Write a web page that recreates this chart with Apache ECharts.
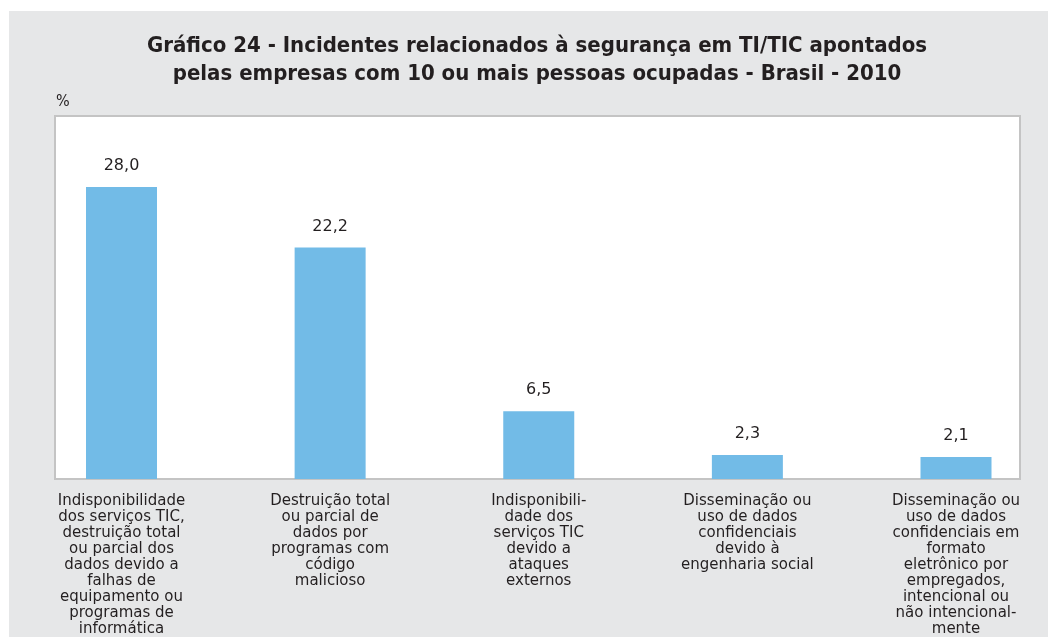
<!DOCTYPE html>
<html>
<head>
<meta charset="utf-8">
<script src="https://cdn.jsdelivr.net/npm/echarts@6/dist/echarts.min.js"></script>
<style>
html,body{margin:0;padding:0;background:#fff;}
#wrap{position:relative;width:1048px;height:637px;overflow:hidden;}
#panel{position:absolute;left:9px;top:11px;width:1039px;height:626px;background:#e6e7e8;}
#chart{position:absolute;left:0;top:0;width:1048px;height:637px;}
</style>
</head>
<body>
<div id="wrap"><div id="panel"></div><div id="chart"></div></div>
<script>
const titleText = 'Gráfico 24 - Incidentes relacionados à segurança em TI/TIC apontados\npelas empresas com 10 ou mais pessoas ocupadas - Brasil - 2010';
const unitLabel = '%';
const categories = [
  'Indisponibilidade\ndos serviços TIC,\ndestruição total\nou parcial dos\ndados devido a\nfalhas de\nequipamento ou\nprogramas de\ninformática',
  'Destruição total\nou parcial de\ndados por\nprogramas com\ncódigo\nmalicioso',
  'Indisponibili-\ndade dos\nserviços TIC\ndevido a\nataques\nexternos',
  'Disseminação ou\nuso de dados\nconfidenciais\ndevido à\nengenharia social',
  'Disseminação ou\nuso de dados\nconfidenciais em\nformato\neletrônico por\nempregados,\nintencional ou\nnão intencional-\nmente'
];
const values = [28.0, 22.2, 6.5, 2.3, 2.1];

const chart = echarts.init(document.getElementById('chart'), null, {renderer: 'canvas'});
const textColor = '#231f20';
chart.setOption({
  animation: false,
  title: {
    text: titleText,
    left: 532,
    textAlign: 'center',
    top: 27,
    textStyle: {
      fontFamily: '"Liberation Sans Narrow", "DejaVu Sans Condensed", Arial, sans-serif',
      fontWeight: 'bold',
      fontSize: 22,
      lineHeight: 28,
      color: textColor
    }
  },
  graphic: [{
    type: 'text',
    left: 56,
    top: 94,
    style: {text: unitLabel, font: '16px "Liberation Sans Narrow", "DejaVu Sans Condensed", sans-serif', fill: textColor}
  }],
  grid: [
    {left: 55, top: 116, width: 965, height: 363, show: true, backgroundColor: '#ffffff', borderColor: '#c4c4c4', borderWidth: 2},
    {left: 121.5, right: 92, top: 116, bottom: 158}
  ],
  xAxis: [
    {gridIndex: 0, type: 'value', show: false},
    {
      gridIndex: 1,
      type: 'category',
      data: categories,
      boundaryGap: false,
      axisLine: {show: false},
      axisTick: {show: false},
      axisLabel: {
        interval: 0,
        margin: 14,
        fontFamily: '"DejaVu Sans", sans-serif',
        fontSize: 15,
        lineHeight: 16,
        color: textColor,
        align: 'center'
      }
    }
  ],
  yAxis: [
    {gridIndex: 0, type: 'value', show: false},
    {gridIndex: 1, type: 'value', min: 0, max: 34.8, show: false}
  ],
  series: [{
    type: 'bar',
    xAxisIndex: 1,
    yAxisIndex: 1,
    data: values,
    barWidth: 71,
    itemStyle: {color: '#72bbe7'},
    label: {
      show: true,
      position: 'top',
      distance: 13,
      formatter: p => p.value.toFixed(1).replace('.', ','),
      fontFamily: '"DejaVu Sans", sans-serif',
      fontSize: 16,
      color: textColor
    }
  }]
});
</script>
</body>
</html>
